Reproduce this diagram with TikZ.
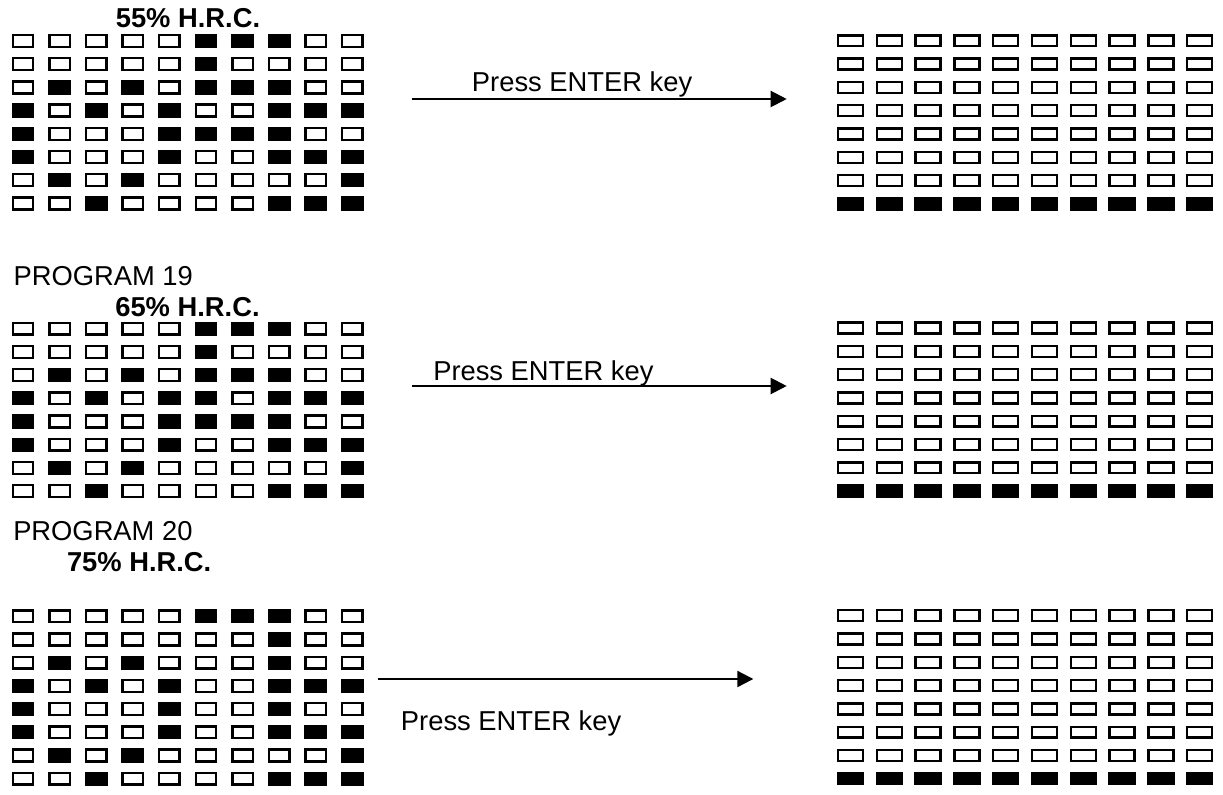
\documentclass[tikz,border=0pt]{standalone}
\usepackage{fontspec}
\setmainfont{Liberation Sans}
\usetikzlibrary{arrows.meta}

% one 10x8 panel of lamps, #1 name, #2 y of first row, #3 rows of bits
\newcommand\hrcpanel[3]{%
  \foreach \bits [count=\j from 0] in {#3} {
    \foreach \b [count=\i from 0] in \bits {
      \ifnum\b=1 \def\cellfill{black}\else\def\cellfill{white}\fi
      \node[leftcell,fill=\cellfill] (#1-\j-\i) at ({23+36.6*\i},{#2+23.2*\j}) {};
    }
  }%
}
% panel after ENTER: only the bottom row lit
\newcommand\resetpanel[2]{%
  \foreach \j in {0,...,7} {
    \foreach \i in {0,...,9} {
      \ifnum\j=7 \def\cellfill{black}\else\def\cellfill{white}\fi
      \node[rightcell,fill=\cellfill] (#1-\j-\i) at ({850.5+38.8*\i},{#2+23.3*\j}) {};
    }
  }%
}

\begin{document}
\begin{tikzpicture}[x=0.75pt,y=-0.75pt,
    font=\fontsize{20.5}{24}\selectfont,
    cell/.style={draw=black,line width=1.8pt,inner sep=0pt,outer sep=0pt},
    leftcell/.style={cell,minimum width=15.2pt,minimum height=8.9pt},
    rightcell/.style={cell,minimum width=18.8pt,minimum height=8.2pt},
    lbl/.style={inner sep=0pt,anchor=base west},
    hrc/.style={inner sep=0pt,anchor=base,font=\fontsize{20.5}{24}\selectfont\bfseries},
    keyarrow/.style={line width=1.6pt,-{Triangle[length=12pt,width=12pt]}}]

  \useasboundingbox (0,0) rectangle (1223,795);

  % 55%
  \node[hrc] (t55) at (188,27.3) {55\% H.R.C.};
  \hrcpanel{a}{41}{{0,0,0,0,0,1,1,1,0,0},{0,0,0,0,0,1,0,0,0,0},
    {0,1,0,1,0,1,1,1,0,0},{1,0,1,0,1,0,0,1,1,1},{1,0,0,0,1,1,1,1,0,0},
    {1,0,0,0,1,0,0,1,1,1},{0,1,0,1,0,0,0,0,0,1},{0,0,1,0,0,0,0,1,1,1}}
  \resetpanel{ra}{40.8}
  \coordinate (go1) at (411.7,99);
  \coordinate (end1) at (786.7,99);
  \draw[keyarrow] (go1) -- (end1);
  \node[lbl] (k1) at (471.7,92) {Press ENTER key};

  % 65%
  \node[lbl] (p19) at (13.3,285) {PROGRAM 19};
  \node[hrc] (t65) at (187.5,316.7) {65\% H.R.C.};
  \hrcpanel{b}{328.7}{{0,0,0,0,0,1,1,1,0,0},{0,0,0,0,0,1,0,0,0,0},
    {0,1,0,1,0,1,1,1,0,0},{1,0,1,0,1,1,0,1,1,1},{1,0,0,0,1,1,1,1,0,0},
    {1,0,0,0,1,0,0,1,1,1},{0,1,0,1,0,0,0,0,0,1},{0,0,1,0,0,0,0,1,1,1}}
  \resetpanel{rb}{328}
  \coordinate (go2) at (411.7,386);
  \coordinate (end2) at (786.7,386);
  \draw[keyarrow] (go2) -- (end2);
  \node[lbl] (k2) at (433,380) {Press ENTER key};

  % 75%
  \node[lbl] (p20) at (13,540.7) {PROGRAM 20};
  \node[hrc] (t75) at (139.2,571.7) {75\% H.R.C.};
  \hrcpanel{c}{616.3}{{0,0,0,0,0,1,1,1,0,0},{0,0,0,0,0,0,0,1,0,0},
    {0,1,0,1,0,0,0,1,0,0},{1,0,1,0,1,0,0,1,1,1},{1,0,0,0,1,0,0,1,0,0},
    {1,0,0,0,1,0,0,1,1,1},{0,1,0,1,0,0,0,0,0,1},{0,0,1,0,0,0,0,1,1,1}}
  \resetpanel{rc}{615.7}
  \coordinate (go3) at (378.3,679);
  \coordinate (end3) at (753.3,679);
  \draw[keyarrow] (go3) -- (end3);
  \node[lbl] (k3) at (400.7,730.7) {Press ENTER key};
\end{tikzpicture}
\end{document}
